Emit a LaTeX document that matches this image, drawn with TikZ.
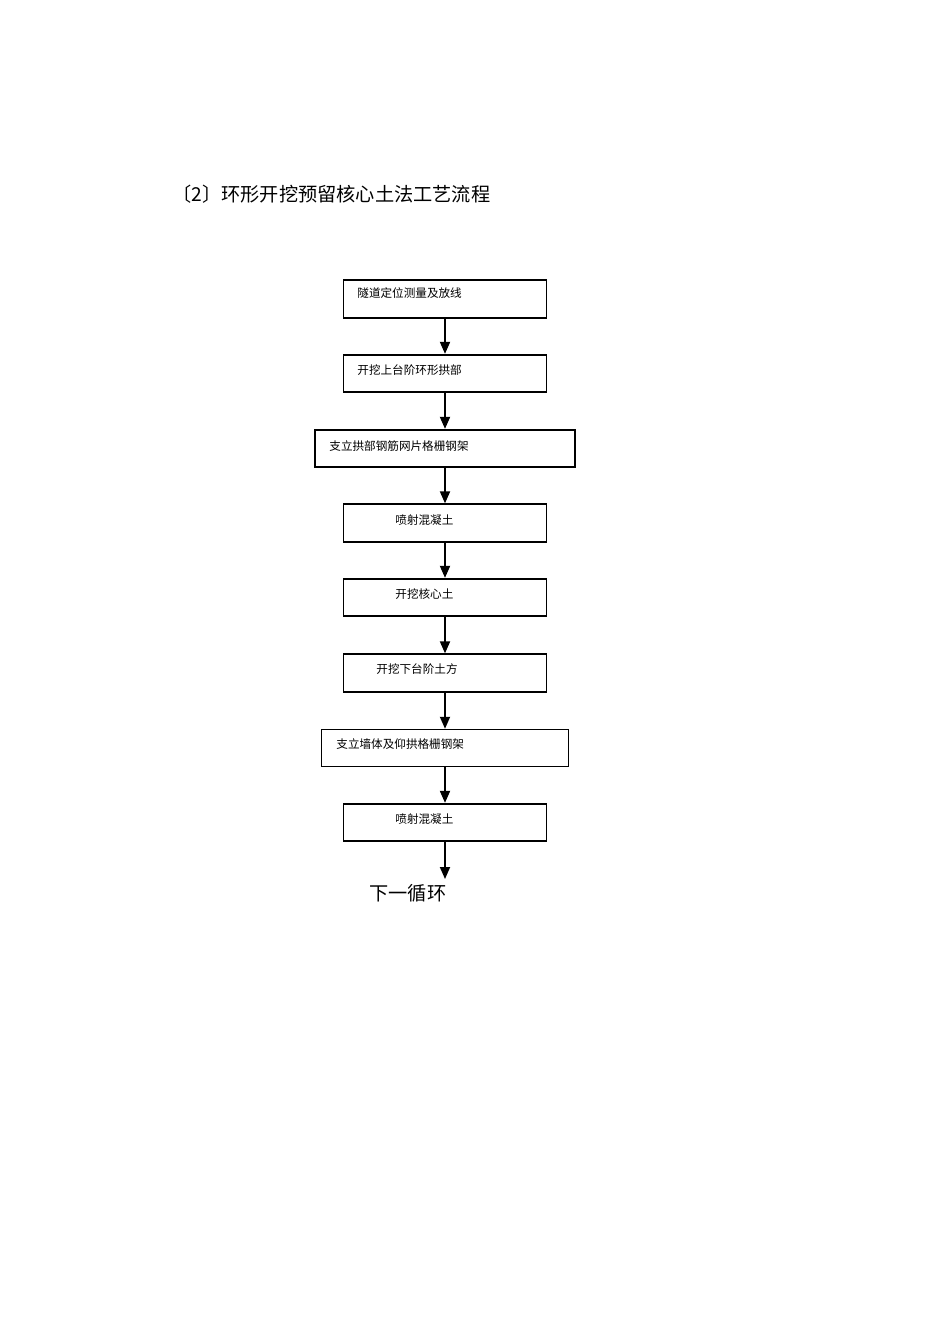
\documentclass[tikz,border=0pt]{standalone}
\usepackage{fontspec}
\setmainfont{Liberation Sans}
\newfontfamily\cjk{Noto Sans CJK SC}
\usetikzlibrary{arrows.meta}

\tikzset{
  stepbox/.style = {draw, line width=0.9pt, minimum width=101.5pt, minimum height=18.75pt, inner sep=0pt},
  steptext/.style = {anchor=west, inner sep=0pt, font=\cjk\fontsize{5.8pt}{6pt}\selectfont},
  flow/.style = {line width=0.9pt, -{Triangle[width=5pt,length=6pt]}}
}

\begin{document}
\begin{tikzpicture}[x=0.5pt, y=-0.5pt]
    \useasboundingbox (0, 0) rectangle (950, 1344);
    \node[anchor = west, inner sep = 0pt, font = \cjk\fontsize{9.6pt}{11pt}\selectfont] (title) at (172, 194) {〔2〕环形开挖预留核心土法工艺流程};
    % boxes
    \node[stepbox] (survey) at (445, 299) {};
    \node[stepbox] (upper arch) at (445, 373.5) {};
    \node[stepbox, minimum width = 130pt] (arch frame) at (445, 448.5) {};
    \node[stepbox] (shotcrete one) at (445, 523) {};
    \node[stepbox] (core soil) at (445, 597.5) {};
    \node[stepbox] (lower bench) at (445, 673) {};
    \node[stepbox, line width = 0.5pt, minimum width = 123.5pt] (wall frame) at (445, 748) {};
    \node[stepbox] (shotcrete two) at (445, 822.5) {};
    % texts
    \node[steptext] (survey text) at (357, 293) {隧道定位测量及放线};
    \node[steptext] (upper arch text) at (357, 370) {开挖上台阶环形拱部};
    \node[steptext] (arch frame text) at (329, 446) {支立拱部钢筋网片格栅钢架};
    \node[steptext] (shotcrete one text) at (395, 520) {喷射混凝土};
    \node[steptext] (core soil text) at (395, 594) {开挖核心土};
    \node[steptext] (lower bench text) at (376, 669) {开挖下台阶土方};
    \node[steptext] (wall frame text) at (336, 744) {支立墙体及仰拱格栅钢架};
    \node[steptext] (shotcrete two text) at (395, 819) {喷射混凝土};
    \coordinate (next top) at (445, 879);
    \node[anchor = west, inner sep = 0pt, font = \cjk\fontsize{9.6pt}{11pt}\selectfont] (next cycle) at (369, 893) {下一循环};
    % arrows
    \draw[flow] (survey) -- (upper arch);
    \draw[flow] (upper arch) -- (arch frame);
    \draw[flow] (arch frame) -- (shotcrete one);
    \draw[flow] (shotcrete one) -- (core soil);
    \draw[flow] (core soil) -- (lower bench);
    \draw[flow] (lower bench) -- (wall frame);
    \draw[flow] (wall frame) -- (shotcrete two);
    \draw[flow] (shotcrete two) -- (next top);
\end{tikzpicture}
\end{document}
